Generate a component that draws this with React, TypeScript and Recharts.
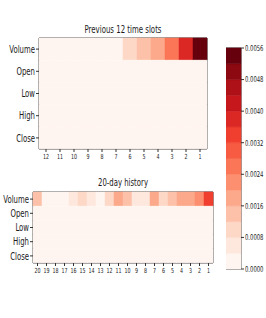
import React from "react";
import { BarChart, Bar, XAxis, YAxis, Cell, ReferenceArea } from "recharts";

const rowLabels = ["Volume", "Open", "Low", "High", "Close"];

const slotLabels = ["12", "11", "10", "9", "8", "7", "6", "5", "4", "3", "2", "1"];
const slotVolume = [0.0001, 0.0001, 0.0001, 0.0001, 0.0001, 0.0001, 0.001, 0.0014, 0.0018, 0.0026, 0.0038, 0.0055];
const slotOpen = [0, 0, 0, 0, 0, 0, 0, 0, 0, 0, 0, 0];
const slotLow = [0, 0, 0, 0, 0, 0, 0, 0, 0, 0, 0, 0];
const slotHigh = [0, 0, 0, 0, 0, 0, 0, 0, 0, 0, 0, 0];
const slotClose = [0, 0, 0, 0, 0, 0, 0, 0, 0, 0, 0, 0];

const dayLabels = ["20", "19", "18", "17", "16", "15", "14", "13", "12", "11", "10", "9", "8", "7", "6", "5", "4", "3", "2", "1"];
const dayVolume = [0.0013, 0.0002, 0.0002, 0.0002, 0.0006, 0.0011, 0.0006, 0.0001, 0.0009, 0.0018, 0.0014, 0.0006, 0.0006, 0.0018, 0.0009, 0.0014, 0.0017, 0.0017, 0.0021, 0.0034];
const dayOpen = [0, 0, 0, 0, 0, 0, 0, 0, 0, 0, 0, 0, 0, 0, 0, 0, 0, 0, 0, 0];
const dayLow = [0, 0, 0, 0, 0, 0, 0, 0, 0, 0, 0, 0, 0, 0, 0, 0, 0, 0, 0, 0];
const dayHigh = [0, 0, 0, 0, 0, 0, 0, 0, 0, 0, 0, 0, 0, 0, 0, 0, 0, 0, 0, 0];
const dayClose = [0, 0, 0, 0, 0, 0, 0, 0, 0, 0, 0, 0, 0, 0, 0, 0, 0, 0, 0, 0];

const colorLevels = [0, 0.0004, 0.0008, 0.0012, 0.0016, 0.002, 0.0024, 0.0028, 0.0032, 0.0036, 0.004, 0.0044, 0.0048, 0.0052, 0.0056];
const colorTicks = [0, 0.0008, 0.0016, 0.0024, 0.0032, 0.004, 0.0048, 0.0056];
const palette = [
  "#fff5f0", "#fee8dd", "#fdd8c7", "#fcc1a8", "#fca88b", "#fc8f6f", "#fb7656",
  "#f75b41", "#f03f2e", "#dc2824", "#c5171c", "#ae1117", "#8d0912", "#67000d",
];

const FONT = "DejaVu Sans";
const INK = "#1a1a1a";
const FRAME = "#333";

function colorFor(v: number) {
  let idx = 0;
  for (let i = 0; i < colorLevels.length - 1; i++) {
    if (v >= colorLevels[i]) idx = i;
  }
  return palette[idx];
}

function SText({ x, y, text, size, sx, anchor }: any) {
  return (
    <text
      transform={`translate(${x},${y}) scale(${sx},1)`}
      textAnchor={anchor}
      fontSize={size}
      fontFamily={FONT}
      fill={INK}
    >
      {text}
    </text>
  );
}

const YTick = (props: any) => {
  const { x, y, payload } = props;
  return <SText x={x} y={y + 10.5 * 0.36} text={payload.value} size={10.5} sx={0.66} anchor="end" />;
};

function makeXTick(labels: string[]) {
  return (props: any) => {
    const { x, y, payload } = props;
    const label = labels[Math.floor(payload.value)];
    return <SText x={x} y={y + 7 * 0.72} text={label} size={7} sx={0.68} anchor="middle" />;
  };
}

const CTick = (props: any) => {
  const { x, y, payload } = props;
  return <SText x={x} y={y + 8 * 0.36} text={Number(payload.value).toFixed(4)} size={8} sx={0.66} anchor="start" />;
};

function Heatmap({ cols, rows, width, height, margin, yWidth, xHeight }: any) {
  const data = rowLabels.map((name, r) => {
    const o: any = { name };
    cols.forEach((_: string, i: number) => {
      o["c" + i] = 1;
    });
    return o;
  });
  const ticks = cols.map((_: string, i: number) => i + 0.5);
  return (
    <BarChart
      width={width}
      height={height}
      data={data}
      layout="vertical"
      margin={margin}
      barCategoryGap={0}
      barGap={0}
    >
      <XAxis
        type="number"
        domain={[0, cols.length]}
        ticks={ticks}
        tick={makeXTick(cols)}
        tickSize={3}
        tickMargin={2}
        tickLine={{ stroke: FRAME }}
        axisLine={false}
        height={xHeight}
        interval={0}
      />
      <YAxis
        type="category"
        dataKey="name"
        width={yWidth}
        tick={YTick}
        tickSize={3}
        tickMargin={1}
        tickLine={{ stroke: FRAME }}
        axisLine={false}
        interval={0}
      />
      {cols.map((_: string, i: number) => (
        <Bar key={i} dataKey={"c" + i} stackId="s" isAnimationActive={false}>
          {rows.map((vals: number[], r: number) => {
            const f = colorFor(vals[i]);
            return <Cell key={r} fill={f} stroke={f} strokeWidth={0.5} />;
          })}
        </Bar>
      ))}
      <ReferenceArea x1={0} x2={cols.length} fill="none" stroke={FRAME} strokeWidth={1} ifOverflow="visible" />
    </BarChart>
  );
}

function ColorBar() {
  const row: any = { name: "cb" };
  palette.forEach((_, i) => {
    row["b" + i] = colorLevels[i + 1] - colorLevels[i];
  });
  return (
    <BarChart
      width={40}
      height={231}
      data={[row]}
      margin={{ top: 5, right: 0, bottom: 5, left: 0 }}
      barCategoryGap={0}
      barGap={0}
    >
      <XAxis dataKey="name" type="category" hide />
      <YAxis
        orientation="right"
        type="number"
        domain={[0, colorLevels[colorLevels.length - 1]]}
        ticks={colorTicks}
        tick={CTick}
        tickSize={3}
        tickMargin={1}
        tickLine={{ stroke: FRAME }}
        axisLine={false}
        width={25}
        interval={0}
      />
      {palette.map((c, i) => (
        <Bar key={i} dataKey={"b" + i} stackId="cb" fill={c} stroke={c} strokeWidth={0.5} isAnimationActive={false} />
      ))}
      <ReferenceArea y1={0} y2={colorLevels[colorLevels.length - 1]} fill="none" stroke={FRAME} strokeWidth={1} ifOverflow="visible" />
    </BarChart>
  );
}

export default function App() {
  return (
    <div style={{ position: "absolute", left: 0, top: 0, width: 266, height: 318, background: "#fff" }}>
      <div style={{ position: "absolute", left: 0, top: 0 }}>
        <Heatmap
          cols={slotLabels}
          rows={[slotVolume, slotOpen, slotLow, slotHigh, slotClose]}
          width={215}
          height={175}
          margin={{ top: 38, right: 8, bottom: 8, left: 0 }}
          yWidth={39}
          xHeight={18}
        />
      </div>
      <div style={{ position: "absolute", left: 0, top: 180 }}>
        <Heatmap
          cols={dayLabels}
          rows={[dayVolume, dayOpen, dayLow, dayHigh, dayClose]}
          width={215}
          height={105}
          margin={{ top: 12, right: 2, bottom: 8, left: 0 }}
          yWidth={33}
          xHeight={14}
        />
      </div>
      <div style={{ position: "absolute", left: 226, top: 43 }}>
        <ColorBar />
      </div>
      <svg style={{ position: "absolute", left: 0, top: 0, pointerEvents: "none" }} width={266} height={318}>
        <text x={123} y={32.5} textAnchor="middle" fontSize={10.5} fontFamily={FONT} fill={INK} textLength={77} lengthAdjust="spacingAndGlyphs">
          Previous 12 time slots
        </text>
        <text x={123} y={185.5} textAnchor="middle" fontSize={10.5} fontFamily={FONT} fill={INK} textLength={50} lengthAdjust="spacingAndGlyphs">
          20-day history
        </text>
      </svg>
    </div>
  );
}
